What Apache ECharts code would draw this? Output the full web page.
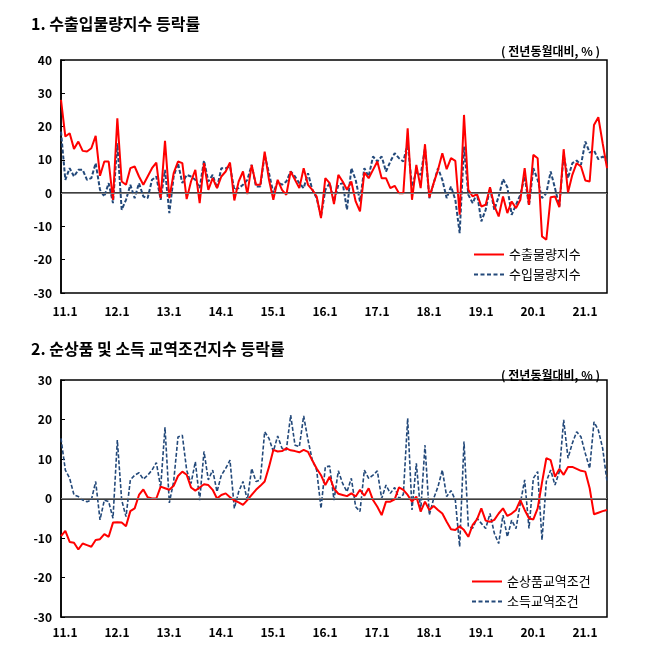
<!DOCTYPE html>
<html>
<head>
<meta charset="utf-8">
<script src="https://cdn.jsdelivr.net/npm/echarts@6/dist/echarts.min.js"></script>
<style>
  html, body { margin: 0; padding: 0; background: #fff; }
  #chart { width: 658px; height: 653px; }
</style>
</head>
<body>
<div id="chart"></div>
<script>
// months 2011.1 ~ 2021.7, labels like "11.1"
const months = [];
for (let y = 11; y <= 21; y++) {
  for (let m = 1; m <= 12; m++) {
    if (y === 21 && m > 7) break;
    months.push(y + "." + m);
  }
}

const exportVolume = [
  28, 17, 18, 13.3, 15.5, 12.7, 12.5, 13.5, 17.2, 5.2, 9.5, 9.5,
  -2, 22.5, 3.5, 2.5, 7.5, 8, 5, 2.5, 5, 7.5, 9.2, -1.5,
  15.7, -1.5, 6, 9.5, 9, -1.8, 3.5, 7, -3, 9, 1, 4.5,
  1.5, 5, 6.5, 9.2, -2.2, 3.5, 6.5, -0.3, 8.5, 2.5, 2.5, 12.5,
  4, -2, 4, 1, -0.5, 6.5, 4, 1.5, 7.5, 2.5, 1, -1,
  -7.5, 4.5, 3, -3.3, 5.5, 3.5, 1, 3.5, -2.5, -5.5, 6.2, 4.5,
  7, 9.5, 4.5, 4.5, 1.5, 2.2, 0, 0, 19.5, -2, 8.5, 1.5,
  14.7, -1.3, 3, 7, 12, 7.2, 10.5, 9.7, -6.5, 23.5, 1, -1,
  -0.3, -4, -3.5, 1.8, -3.8, -7, -1, -6, -2.5, -4.5, -2, 7.5,
  -3.5, 11.5, 10.5, -13, -14, -1.2, -1, -4.2, 13.2, 0.2, 5.5, 9,
  8, 3.8, 3.5, 20.5, 22.8, 15, 7.5
];

const importVolume = [
  18.5, 4, 7.5, 5, 7, 7, 4, 4.5, 9, 1, -1, 3,
  -3, 15, -5, -2, 2.5, -1.5, 3, -1, -1.5, 4, 5, -2,
  7, -6, 5, 9, 3, 5.5, 5, 4, 1.5, 9.8, 3.5, 5.5,
  1.5, 7.5, 7.5, 8, 1, 1.5, 2.5, 4, 8.5, 2, 2, 11.5,
  6, 0, 3.5, 2.5, 3.5, 6.5, 5, 3, 1.5, 6, 1, -1.5,
  -7, 1, 3, -2.5, 2.5, 3, -5, 7.5, 4, -2.5, 7.5, 5,
  11, 9.5, 11, 6.5, 9.5, 12, 10.5, 9.5, 15, 2, 6.5, 5.5,
  13.5, -1.5, 3, 7.5, 4, -1.5, 2, -2, -12, 14, -0.5, -3,
  0, -8.5, -5, 1.5, -5, -1, 4.2, 1.8, -6.5, -3.5, -0.5, 5,
  -3.8, 7.5, 4, -1.5, 0, 6.5, 1.5, -4, 11.5, 4.5, 9, 9.8,
  8.5, 15.5, 12.2, 12.8, 10.2, 11, 9.5
];

const netTerms = [
  -9.5, -8.2, -11, -11.2, -12.9, -11.4, -11.8, -12.2, -10.5, -10.3, -9, -9.7,
  -6.1, -6, -6.1, -7, -3.2, -2.5, 0.9, 2.3, 0.3, 0, 0, 3,
  2.6, 2.2, 3.2, 5.7, 6.8, 6, 2.8, 2, 2.8, 3.6, 3.4, 2.2,
  0, 0.9, 1.3, 0.3, -0.5, -1, -1.6, -0.4, 0.9, 2.2, 3.2, 4.3,
  8, 12.3, 11.9, 12, 12.7, 12.2, 12, 11.7, 12.3, 11.8, 9.6, 7.6,
  5.9, 3.4, 5.5, 2.5, 1.2, 0.9, 0.6, 1.3, 0.5, 2.2, 0.7, 2.6,
  -0.4, -2.1, -4.2, -0.8, -0.8, -0.2, 2.8, 2.2, 0.9, -0.8, 0.5, -3.3,
  -0.8, -2.9, -1.9, -2.9, -3.8, -5.9, -7.8, -8, -7, -8, -9.7, -6.7,
  -5.3, -2.5, -5.6, -5.9, -5.4, -3.8, -2.5, -4.4, -3.8, -2.9, -0.4, -2.9,
  -5, -5.3, -2.5, 4, 10.2, 9.7, 5.5, 7.5, 6, 8, 8, 7.5,
  7, 6.8, 2.6, -4, -3.6, -3.2, -2.9
];

const incomeTerms = [
  15.2, 7.2, 5.1, 0.9, 0.5, -0.4, -0.8, -0.4, 4.3, -5.4, -0.4, -0.8,
  -5, 14.8, -0.4, -4.6, 4.7, 5.9, 6.5, 4.9, 5.9, 7.2, 9.1, 2.8,
  18, -1.1, 4.3, 15.6, 16, 7.2, 3.8, 9.3, -0.4, 11.9, 4.7, 7.2,
  1.7, 5.9, 7.6, 9.7, -2.5, 1.7, 4.3, -0.4, 7.6, 4.3, 4.7, 16.9,
  15.2, 11.9, 15.8, 12.7, 12.3, 21.1, 13.5, 13.1, 20.9, 14.8, 9.7, 7.2,
  -2.5, 8, 8.2, -0.4, 7, 3.8, 1.7, 5.1, -2.1, -3.3, 7.2, 5.1,
  5.9, 7, 0, 3.4, 1.3, 2.8, 0, 1, 20.3, -2.9, 8.9, -3.3,
  13.5, -4.2, 0, 3, 7.2, 0.5, 2, -0.4, -12.2, 14.4, -7.1, -7.5,
  -5, -6.3, -7.6, -3.8, -8.8, -11.4, -4.2, -9.7, -5.5, -7.6, -1.2, 4.7,
  -7.6, 5.1, 6.8, -10.5, 4.3, 7.2, 3.4, 6.8, 19.9, 10.2, 14, 16.9,
  15.6, 11.4, 7.6, 19.4, 17.3, 12.7, 4.3
];

const font = "'Noto Sans CJK KR', 'Noto Sans', sans-serif";
const red = "#ff0000";
const navy = "#23497a";

// legend icons: plain stroke and dashed stroke
const solidIcon = "path://M0,0h30v2h-30z";
const dashIcon = "path://M0,0h4v2h-4zM6.5,0h4v2h-4zM13,0h4v2h-4zM19.5,0h4v2h-4zM26,0h4v2h-4z";

const zeroLine = {
  silent: true,
  symbol: "none",
  label: { show: false },
  lineStyle: { color: "#808080", width: 1, type: "solid" },
  data: [{ yAxis: 0 }],
};

function xAxisFor(gridIndex, margin) {
  return {
    type: "category",
    gridIndex,
    data: months,
    boundaryGap: false,
    axisLine: { show: true, lineStyle: { color: "#000", width: 1.5 } },
    axisTick: { show: false },
    axisLabel: {
      interval: (i) => i % 12 === 0,
      margin,
      color: "#000",
      fontSize: 12,
      fontWeight: "bold",
      fontFamily: font,
      padding: [0, 0, 0, 8],
    },
    splitLine: { show: false },
  };
}

function yAxisFor(gridIndex, min, max) {
  return {
    type: "value",
    gridIndex,
    min,
    max,
    interval: 10,
    axisLine: { show: true, lineStyle: { color: "#000", width: 1.5 } },
    axisTick: { show: true, inside: true, length: 4, lineStyle: { color: "#000" } },
    axisLabel: {
      color: "#000",
      fontSize: 12,
      fontWeight: "bold",
      fontFamily: font,
      margin: 9,
    },
    splitLine: { show: false },
  };
}

function legendFor(names, left, top) {
  return {
    data: [
      { name: names[0], icon: solidIcon },
      { name: names[1], icon: dashIcon },
    ],
    orient: "vertical",
    left,
    top,
    padding: 0,
    itemWidth: 30,
    itemHeight: 2,
    itemGap: 7,
    textStyle: { fontSize: 13, color: "#000", fontFamily: font },
  };
}

const chart = echarts.init(document.getElementById("chart"));
chart.setOption({
  animation: false,
  backgroundColor: "#fff",
  textStyle: { fontFamily: font },
  title: [
    {
      text: "1. 수출입물량지수 등락률",
      left: 26,
      top: 11,
      textStyle: { fontSize: 16, fontWeight: "bold", color: "#000", fontFamily: font },
    },
    {
      text: "( 전년동월대비, % )",
      right: 53,
      top: 40,
      textStyle: { fontSize: 12, fontWeight: "bold", color: "#000", fontFamily: font },
    },
    {
      text: "2. 순상품 및 소득 교역조건지수 등락률",
      left: 26,
      top: 336,
      textStyle: { fontSize: 16, fontWeight: "bold", color: "#000", fontFamily: font },
    },
    {
      text: "( 전년동월대비, % )",
      right: 53,
      top: 364,
      textStyle: { fontSize: 12, fontWeight: "bold", color: "#000", fontFamily: font },
    },
  ],
  grid: [
    { left: 61, top: 60, width: 546, height: 233, show: true, borderColor: "#000", borderWidth: 1.5 },
    { left: 61, top: 380, width: 546, height: 237, show: true, borderColor: "#000", borderWidth: 1.5 },
  ],
  legend: [
    legendFor(["수출물량지수", "수입물량지수"], 474, 248),
    legendFor(["순상품교역조건", "소득교역조건"], 472, 575),
  ],
  xAxis: [xAxisFor(0, 12), xAxisFor(1, 9)],
  yAxis: [yAxisFor(0, -30, 40), yAxisFor(1, -30, 30)],
  series: [
    {
      name: "수입물량지수",
      type: "line",
      xAxisIndex: 0,
      yAxisIndex: 0,
      data: importVolume,
      symbol: "none",
      lineStyle: { color: navy, width: 2, type: [4, 2] },
      itemStyle: { color: navy },
      markLine: zeroLine,
    },
    {
      name: "수출물량지수",
      type: "line",
      xAxisIndex: 0,
      yAxisIndex: 0,
      data: exportVolume,
      symbol: "none",
      lineStyle: { color: red, width: 2 },
      itemStyle: { color: red },
    },
    {
      name: "소득교역조건",
      type: "line",
      xAxisIndex: 1,
      yAxisIndex: 1,
      data: incomeTerms,
      symbol: "none",
      lineStyle: { color: navy, width: 1.6, type: [4, 2] },
      itemStyle: { color: navy },
      markLine: zeroLine,
    },
    {
      name: "순상품교역조건",
      type: "line",
      xAxisIndex: 1,
      yAxisIndex: 1,
      data: netTerms,
      symbol: "none",
      lineStyle: { color: red, width: 2 },
      itemStyle: { color: red },
    },
  ],
});
</script>
</body>
</html>
